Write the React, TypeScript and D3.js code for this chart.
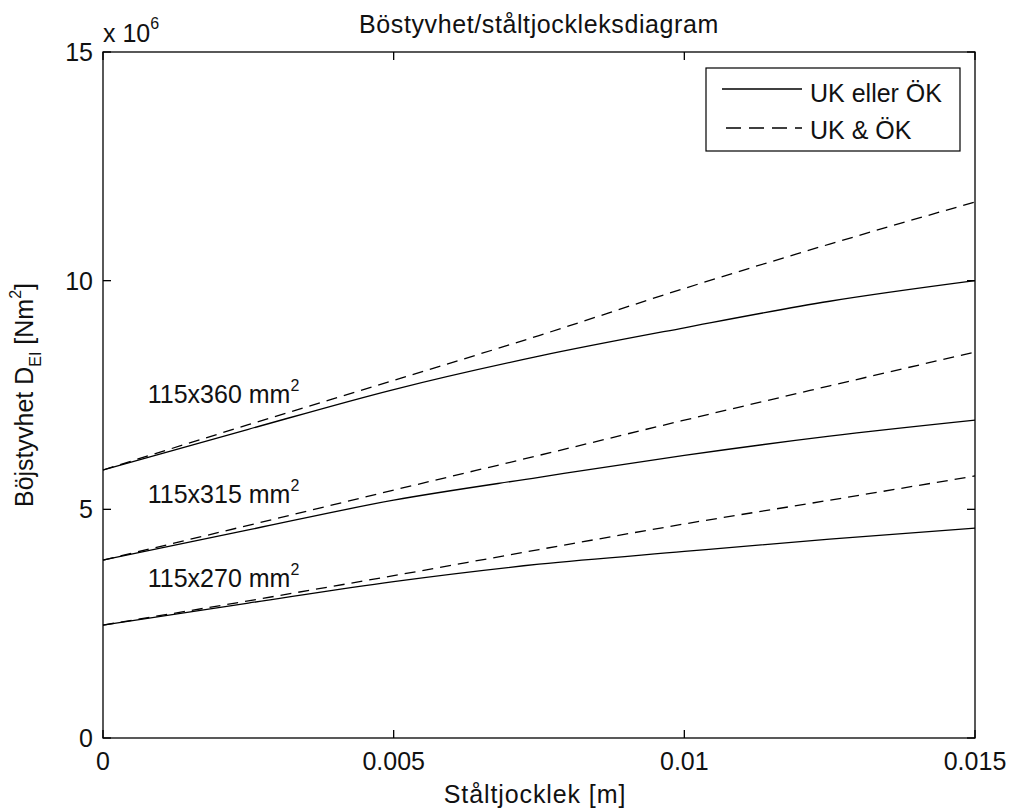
import React from "react";
import * as d3 from "d3";

// thickness values (m)
const thickness = [0, 0.0025, 0.005, 0.0075, 0.01, 0.0125, 0.015];
// bending stiffness, in 10^6 Nm^2
const solid360 = [5.86, 6.75, 7.62, 8.35, 8.97, 9.55, 10.0];
const dashed360 = [5.86, 6.85, 7.82, 8.8, 9.83, 10.8, 11.72];
const solid315 = [3.89, 4.55, 5.2, 5.7, 6.18, 6.6, 6.95];
const dashed315 = [3.89, 4.65, 5.42, 6.18, 6.95, 7.7, 8.44];
const solid270 = [2.47, 2.95, 3.42, 3.8, 4.08, 4.35, 4.59];
const dashed270 = [2.47, 3.0, 3.55, 4.12, 4.68, 5.2, 5.73];

const xTicks = [0, 0.005, 0.01, 0.015];
const xTickLabels = ["0", "0.005", "0.01", "0.015"];
const yTicks = [0, 5, 10, 15];
const yTickLabels = ["0", "5", "10", "15"];

const sectionLabels = ["115x360 mm", "115x315 mm", "115x270 mm"];
const sectionLabelPos = [
  [0.00077, 7.32],
  [0.00077, 5.14],
  [0.00077, 3.3],
];

const legendLabels = ["UK eller ÖK", "UK & ÖK"];

const W = 1010;
const H = 812;
const left = 103, right = 975, top = 52, bottom = 738;
const FONT = "'Liberation Sans', Arial, Helvetica, sans-serif";
const FS = 25;

export default function App() {
  const x = d3.scaleLinear().domain([0, 0.015]).range([left, right]);
  const y = d3.scaleLinear().domain([0, 15]).range([bottom, top]);
  const line = d3
    .line<[number, number]>()
    .x((d) => x(d[0]))
    .y((d) => y(d[1]))
    .curve(d3.curveMonotoneX);
  const mk = (vals: number[]) => line(thickness.map((t, i) => [t, vals[i]] as [number, number])) || "";

  const series = [
    { v: solid360, dash: false },
    { v: dashed360, dash: true },
    { v: solid315, dash: false },
    { v: dashed315, dash: true },
    { v: solid270, dash: false },
    { v: dashed270, dash: true },
  ];
  const tickLen = 8;
  const midX = (left + right) / 2;
  const midY = (top + bottom) / 2;

  return (
    <svg
      width={W}
      height={H}
      style={{ position: "absolute", left: 0, top: 0, background: "#fff" }}
      fontFamily={FONT}
    >
      <rect x={0} y={0} width={W} height={H} fill="#fff" />
      {/* series */}
      {series.map((s, i) => (
        <path
          key={i}
          d={mk(s.v)}
          fill="none"
          stroke="#000"
          strokeWidth={1.3}
          strokeDasharray={s.dash ? "11,7" : undefined}
        />
      ))}
      {/* axes box */}
      <rect x={left} y={top} width={right - left} height={bottom - top} fill="none" stroke="#000" strokeWidth={1.3} />
      {/* ticks */}
      {xTicks.map((t, i) => (
        <g key={"xt" + i}>
          <line x1={x(t)} x2={x(t)} y1={bottom} y2={bottom - tickLen} stroke="#000" strokeWidth={1.3} />
          <line x1={x(t)} x2={x(t)} y1={top} y2={top + tickLen} stroke="#000" strokeWidth={1.3} />
          <text x={x(t)} y={770} textAnchor="middle" fontSize={FS} fill="#111">
            {xTickLabels[i]}
          </text>
        </g>
      ))}
      {yTicks.map((t, i) => (
        <g key={"yt" + i}>
          <line x1={left} x2={left + tickLen} y1={y(t)} y2={y(t)} stroke="#000" strokeWidth={1.3} />
          <line x1={right} x2={right - tickLen} y1={y(t)} y2={y(t)} stroke="#000" strokeWidth={1.3} />
          <text x={93} y={y(t) + 9} textAnchor="end" fontSize={FS} fill="#111">
            {yTickLabels[i]}
          </text>
        </g>
      ))}
      {/* exponent */}
      <text x={103} y={42} fontSize={FS} fill="#111">
        x 10
        <tspan fontSize={16} dy={-13}>6</tspan>
      </text>
      {/* title */}
      <text x={midX} y={33} textAnchor="middle" fontSize={FS} fill="#111" letterSpacing={0.6}>
        Böstyvhet/ståltjockleksdiagram
      </text>
      {/* x label */}
      <text x={midX - 4} y={803} textAnchor="middle" fontSize={FS} fill="#111" letterSpacing={0.9}>
        Ståltjocklek [m]
      </text>
      {/* y label */}
      <text
        transform={`translate(33,${midY}) rotate(-90)`}
        textAnchor="middle"
        fontSize={FS}
        fill="#111"
      >
        Böjstyvhet D
        <tspan fontSize={16} dy={8}>EI</tspan>
        <tspan dy={-8}> [Nm</tspan>
        <tspan fontSize={16} dy={-12}>2</tspan>
        <tspan dy={12}>]</tspan>
      </text>
      {/* section labels */}
      {sectionLabels.map((s, i) => (
        <text key={"sl" + i} x={x(sectionLabelPos[i][0])} y={y(sectionLabelPos[i][1])} fontSize={FS} fill="#111">
          {s}
          <tspan fontSize={16} dy={-12}>2</tspan>
        </text>
      ))}
      {/* legend */}
      <rect x={706} y={68} width={254} height={83} fill="#fff" stroke="#000" strokeWidth={1.2} />
      <line x1={722} x2={802} y1={89} y2={89} stroke="#000" strokeWidth={1.3} />
      <line x1={722} x2={802} y1={128} y2={128} stroke="#000" strokeWidth={1.3} strokeDasharray="15,8" strokeDashoffset={-4} />
      <text x={810} y={102} fontSize={FS} fill="#111">{legendLabels[0]}</text>
      <text x={810} y={139} fontSize={FS} fill="#111">{legendLabels[1]}</text>
    </svg>
  );
}
